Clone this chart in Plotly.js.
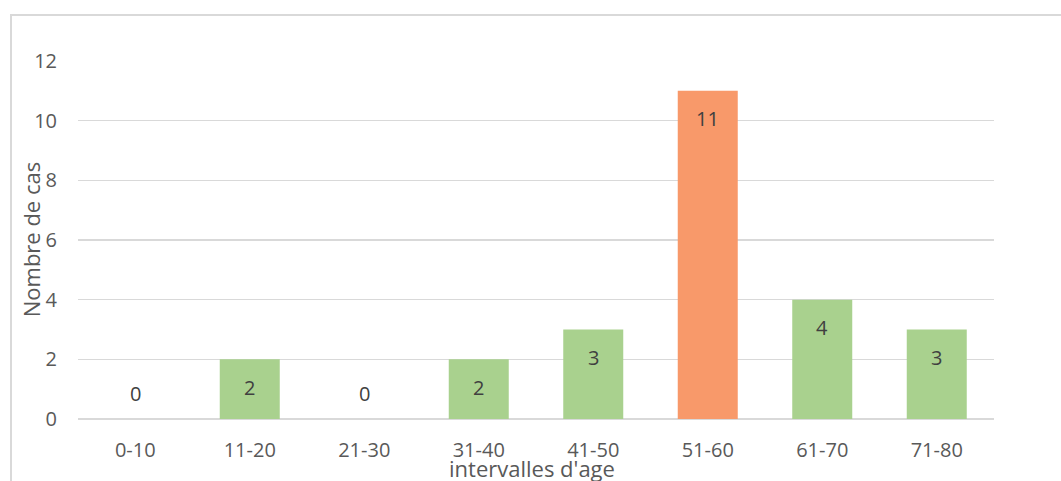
<!DOCTYPE html>
<html>
<head>
<meta charset="utf-8">
<script src="https://cdn.plot.ly/plotly-3.0.1.min.js"></script>
<style>
  html, body { margin: 0; padding: 0; background: #fff; }
  #wrap { position: relative; width: 1061px; height: 481px; overflow: hidden; }
  #chart { position: absolute; left: 0; top: 0; width: 1061px; height: 481px; }
  #frame { position: absolute; left: 10px; top: 14px; width: 1070px; height: 500px;
           border-left: 2px solid #d9d9d9; border-top: 2px solid #d9d9d9; pointer-events: none; }
</style>
</head>
<body>
<div id="wrap">
  <div id="chart"></div>
  <div id="frame"></div>
</div>
<script>
const categories = ['0-10', '11-20', '21-30', '31-40', '41-50', '51-60', '61-70', '71-80'];
const cases = [0, 2, 0, 2, 3, 11, 4, 3];
const yTickVals = [0, 2, 4, 6, 8, 10, 12];
const xTitle = "intervalles d'age";
const yTitle = 'Nombre de cas';

const green = '#A9D18E';
const orange = '#F8996A';
const maxVal = Math.max(...cases);
const colors = cases.map(v => v === maxVal ? orange : green);

const font = 'Open Sans, Noto Sans, sans-serif';
const textColor = '#595959';

const trace = {
  type: 'bar',
  x: categories,
  y: cases,
  marker: { color: colors, line: { width: 0 } },
  hoverinfo: 'x+y'
};

const labelAnnotations = categories.map((c, i) => ({
  x: c,
  y: cases[i],
  xref: 'x',
  yref: 'y',
  text: String(cases[i]),
  showarrow: false,
  xanchor: 'center',
  yanchor: 'middle',
  yshift: cases[i] > 0 ? -28 : 26,
  font: { family: font, size: 20, color: '#404040' }
}));

const titleAnnotations = [
  {
    text: yTitle, xref: 'paper', yref: 'paper', x: -0.051, y: 0.5,
    xanchor: 'center', yanchor: 'middle', textangle: -90, showarrow: false,
    font: { family: font, size: 22, color: textColor }
  },
  {
    text: xTitle, xref: 'paper', yref: 'paper', x: 0.496, y: -0.138,
    xanchor: 'center', yanchor: 'middle', showarrow: false,
    font: { family: font, size: 22, color: textColor }
  }
];

const layout = {
  width: 1061,
  height: 481,
  margin: { l: 78, r: 67, t: 61, b: 62 },
  paper_bgcolor: '#ffffff',
  plot_bgcolor: '#ffffff',
  showlegend: false,
  bargap: 0.476,
  font: { family: font, color: textColor, size: 20 },
  xaxis: {
    type: 'category',
    showgrid: false,
    showline: false,
    zeroline: false,
    ticks: 'outside',
    ticklen: 13,
    tickcolor: 'rgba(0,0,0,0)',
    tickfont: { family: font, size: 20, color: textColor },
    fixedrange: true
  },
  yaxis: {
    range: [0, 12],
    tickvals: yTickVals,
    ticktext: yTickVals.map(String),
    showgrid: true,
    gridcolor: '#d9d9d9',
    gridwidth: 1.5,
    zeroline: true,
    zerolinecolor: '#d9d9d9',
    zerolinewidth: 1.5,
    showline: false,
    ticks: 'outside',
    ticklen: 16,
    tickcolor: 'rgba(0,0,0,0)',
    tickfont: { family: font, size: 20, color: textColor },
    fixedrange: true
  },
  annotations: labelAnnotations.concat(titleAnnotations)
};

Plotly.newPlot('chart', [trace], layout, { displayModeBar: false, staticPlot: true });
</script>
</body>
</html>
